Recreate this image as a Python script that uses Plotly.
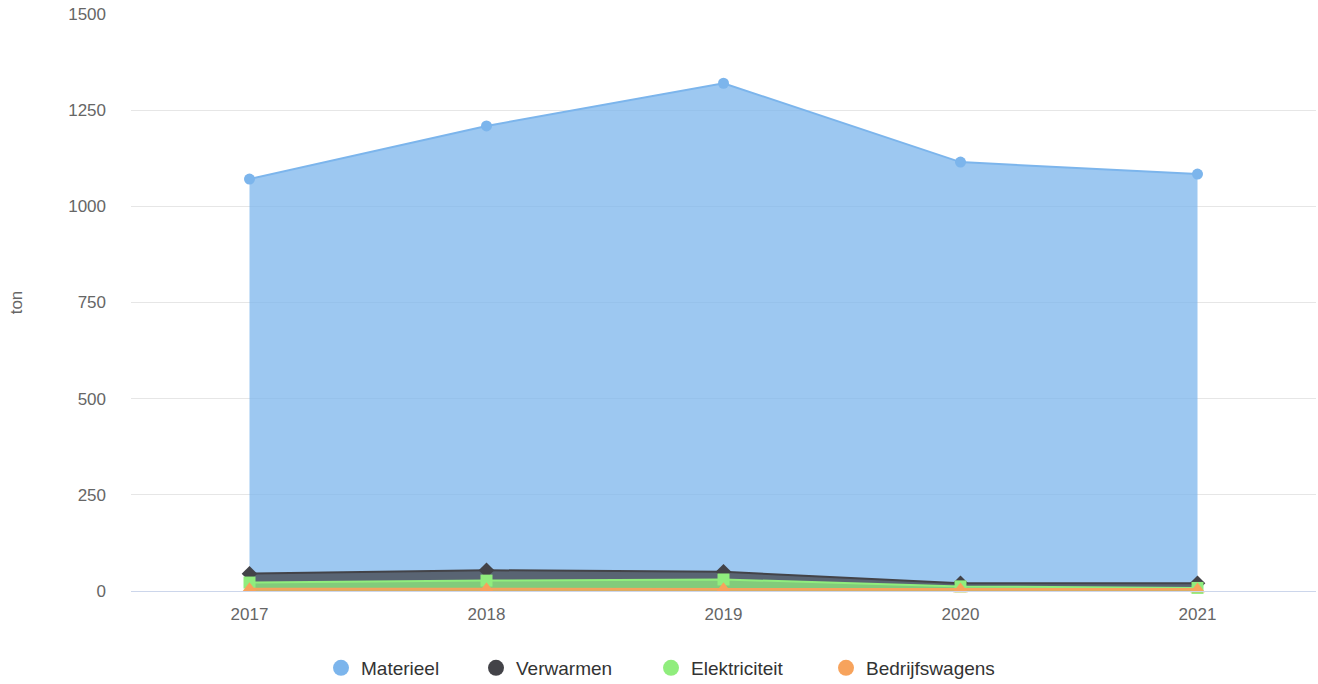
import plotly.graph_objects as go

years = ["2017", "2018", "2019", "2020", "2021"]
materieel = [1071, 1209, 1320, 1115, 1084]
verwarmen = [45, 54, 50, 20, 20]
elektriciteit = [22, 27, 30, 12, 8]
bedrijfswagens = [6, 6, 6, 5, 5]

series = [
    ("Materieel", materieel, "#7cb5ec", "rgba(124,181,236,0.75)", "circle", 11),
    ("Verwarmen", verwarmen, "#434348", "rgba(67,67,72,0.75)", "diamond", 12),
    ("Elektriciteit", elektriciteit, "#90ed7d", "rgba(144,237,125,0.75)", "square", 12),
    ("Bedrijfswagens", bedrijfswagens, "#f7a35c", "rgba(247,163,92,0.75)", "triangle-up", 13),
]

W, H = 1318, 684
legend_circle_x = [341, 496, 671, 846]  # px positions of legend markers

fig = go.Figure()
for name, vals, col, fillcol, sym, sz in series:
    fig.add_trace(go.Scatter(
        x=years, y=vals, name=name, mode="lines+markers",
        fill="tozeroy", fillcolor=fillcol,
        line=dict(color=col, width=2),
        marker=dict(symbol=sym, size=sz, color=col),
        showlegend=False, cliponaxis=False,
    ))

legend_layouts = {}
for i, (name, vals, col, fillcol, sym, sz) in enumerate(series):
    key = "legend" if i == 0 else f"legend{i + 1}"
    fig.add_trace(go.Scatter(
        x=[None], y=[None], name=name, mode="markers",
        marker=dict(symbol="circle", size=16, color=col),
        showlegend=True, hoverinfo="skip", legend=key,
    ))
    lx = (legend_circle_x[i] - 20) / W
    legend_layouts[key] = dict(
        orientation="h", x=lx, xanchor="left", xref="container",
        y=1 - 668 / H, yanchor="middle", yref="container",
        font=dict(size=19, color="#333333"),
        itemsizing="trace", itemwidth=30, bgcolor="rgba(0,0,0,0)",
    )

fig.update_layout(
    width=W, height=H,
    margin=dict(l=131, r=2, t=14, b=93),
    plot_bgcolor="white", paper_bgcolor="white",
    font=dict(family="Liberation Sans, Arial, sans-serif", color="#666666", size=17),
    xaxis=dict(
        type="category", range=[-0.5, 4.5], automargin=False,
        showline=True, linecolor="#ccd6eb", linewidth=1,
        showgrid=False, ticks="", ticklabelstandoff=8,
        tickfont=dict(size=17, color="#666666"),
    ),
    yaxis=dict(
        range=[0, 1500], tickvals=[0, 250, 500, 750, 1000, 1250, 1500],
        automargin=False,
        showgrid=True, gridcolor="#e6e6e6", gridwidth=1,
        zeroline=False, showline=False, ticks="",
        ticklabelstandoff=24,
        tickfont=dict(size=17, color="#666666"),
        title=dict(text="ton", font=dict(size=17, color="#666666"), standoff=41),
    ),
    **legend_layouts,
)

fig.write_html("out.html", config={"displayModeBar": False},
               post_script="document.body.style.margin='0';")
